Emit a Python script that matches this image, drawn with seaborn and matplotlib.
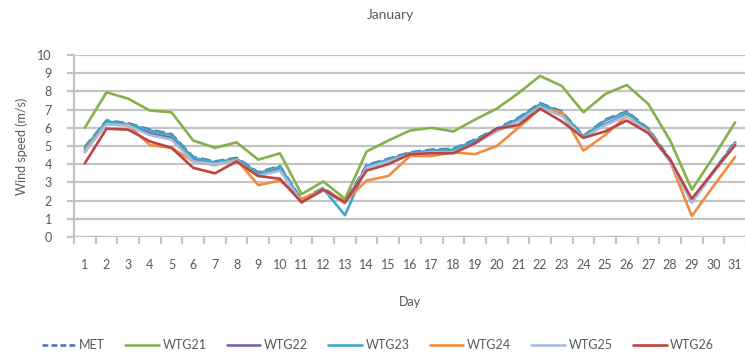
import numpy as np
import pandas as pd
import matplotlib
matplotlib.use("Agg")
import matplotlib.pyplot as plt
from matplotlib.lines import Line2D
import seaborn as sns

days = list(range(1, 32))
series_names = ["MET", "WTG21", "WTG22", "WTG23", "WTG24", "WTG25", "WTG26"]

met = [4.95, 6.4, 6.25, 5.9, 5.65, 4.4, 4.15, 4.35, 3.55, 3.9, 2.05, 2.7, 1.9, 3.95, 4.3, 4.65,
       4.8, 4.85, 5.35, 5.95, 6.55, 7.35, 6.9, 5.55, 6.45, 6.9, 5.95, 4.25, 1.95, 3.6, 5.25]
wtg21 = [6.0, 7.95, 7.6, 6.95, 6.85, 5.3, 4.9, 5.2, 4.25, 4.6, 2.35, 3.05, 2.1, 4.7, 5.3, 5.85,
         6.0, 5.8, 6.45, 7.05, 7.9, 8.85, 8.3, 6.85, 7.85, 8.35, 7.3, 5.3, 2.6, 4.4, 6.3]
wtg22 = [4.75, 6.3, 6.15, 5.7, 5.45, 4.25, 4.05, 4.25, 3.4, 3.75, 1.95, 2.6, 1.9, 3.85, 4.2, 4.6,
         4.7, 4.7, 5.2, 5.85, 6.4, 7.2, 6.7, 5.5, 6.2, 6.7, 5.8, 4.2, 1.95, 3.6, 5.15]
wtg23 = [4.9, 6.35, 6.2, 5.85, 5.6, 4.35, 4.1, 4.3, 3.5, 3.85, 2.0, 2.65, 1.2, 3.9, 4.25, 4.6,
         4.75, 4.8, 5.3, 5.9, 6.5, 7.3, 6.85, 5.5, 6.4, 6.85, 5.9, 4.2, 1.9, 3.55, 5.2]
wtg24 = [4.75, 6.2, 6.15, 5.05, 4.9, 4.15, 3.95, 4.25, 2.85, 3.1, 2.1, 2.6, 1.95, 3.1, 3.35, 4.45,
         4.45, 4.65, 4.55, 5.0, 6.0, 7.05, 6.85, 4.75, 5.6, 6.65, 5.8, 4.15, 1.15, 2.8, 4.4]
wtg25 = [4.65, 6.2, 6.1, 5.6, 5.35, 4.15, 4.0, 4.2, 3.35, 3.65, 1.9, 2.55, 1.85, 3.8, 4.15, 4.55,
         4.65, 4.65, 5.15, 5.8, 6.35, 7.15, 6.65, 5.45, 6.15, 6.65, 5.75, 4.15, 1.9, 3.55, 5.1]
wtg26 = [4.05, 5.95, 5.9, 5.25, 4.9, 3.8, 3.5, 4.15, 3.35, 3.2, 1.9, 2.6, 1.9, 3.65, 4.0, 4.55,
         4.6, 4.6, 5.15, 5.95, 6.15, 7.05, 6.35, 5.45, 5.8, 6.4, 5.7, 4.25, 2.1, 3.6, 5.05]

values = [met, wtg21, wtg22, wtg23, wtg24, wtg25, wtg26]
colors = ["#4A76B8", "#86B04A", "#7F62A0", "#41A8C2", "#F08C3E", "#A3BEE2", "#BE4442"]

df = pd.DataFrame({
    "Day": np.tile(days, len(series_names)),
    "Speed": np.concatenate(values),
    "Series": np.repeat(series_names, len(days)),
})

sns.set_theme(style="white")
plt.rcParams["font.family"] = ["Lato", "DejaVu Sans"]
text_color = "#595959"
grid_color = "#C4C4C4"

fig = plt.figure(figsize=(7.45, 3.58), dpi=100)
ax = fig.add_axes([74 / 745, 121 / 358, 672 / 745, 182 / 358])

palette = dict(zip(series_names, colors))
lw = 1.9
for name in series_names:
    sub = df[df["Series"] == name]
    sns.lineplot(data=sub, x="Day", y="Speed", color=palette[name], linewidth=lw,
                 ax=ax, legend=False,
                 linestyle="--" if name == "MET" else "-",
                 dashes=(2.2, 1.2) if name == "MET" else (None, None))

ax.set_xlim(0.5, 31.5)
ax.set_ylim(0, 10)
ax.set_yticks(range(0, 11))
ax.set_xticks(days)
ax.set_xticklabels([str(d) for d in days])
ax.set_xticks(np.arange(0.5, 32, 1), minor=True)

ax.grid(axis="y", color=grid_color, linewidth=1.6)
ax.set_axisbelow(True)
for side in ["top", "right", "bottom"]:
    ax.spines[side].set_visible(False)
ax.spines["left"].set_color(grid_color)
ax.spines["left"].set_linewidth(1.6)
ax.axhline(0, color=grid_color, linewidth=1.6, zorder=0)

ax.tick_params(axis="y", which="major", length=5, width=1.6, color=grid_color,
               labelsize=9, labelcolor=text_color, pad=11, left=True)
ax.tick_params(axis="x", which="major", length=0, labelsize=9, labelcolor=text_color, pad=16)
ax.tick_params(axis="x", which="minor", length=5, width=1.6, color=grid_color, bottom=True)

ax.set_xlabel("Day", fontsize=9, color=text_color, labelpad=18)
ax.set_ylabel("Wind speed (m/s)", fontsize=9, color=text_color, labelpad=7)
fig.text(390 / 745, 1 - 15 / 358, "January", ha="center", va="center",
         fontsize=10, color=text_color)

handles = []
for name in series_names:
    if name == "MET":
        h = Line2D([], [], color=palette[name], linewidth=lw, linestyle=(0, (2.2, 1.2)))
    else:
        h = Line2D([], [], color=palette[name], linewidth=lw)
    handles.append(h)
fig.legend(handles, series_names, loc="center", bbox_to_anchor=(378 / 745, 1 - 345 / 358),
           ncol=7, frameon=False, fontsize=9, labelcolor=text_color,
           handlelength=2.7, handletextpad=0.3, columnspacing=1.6)

fig.savefig("out.png", dpi=100)
